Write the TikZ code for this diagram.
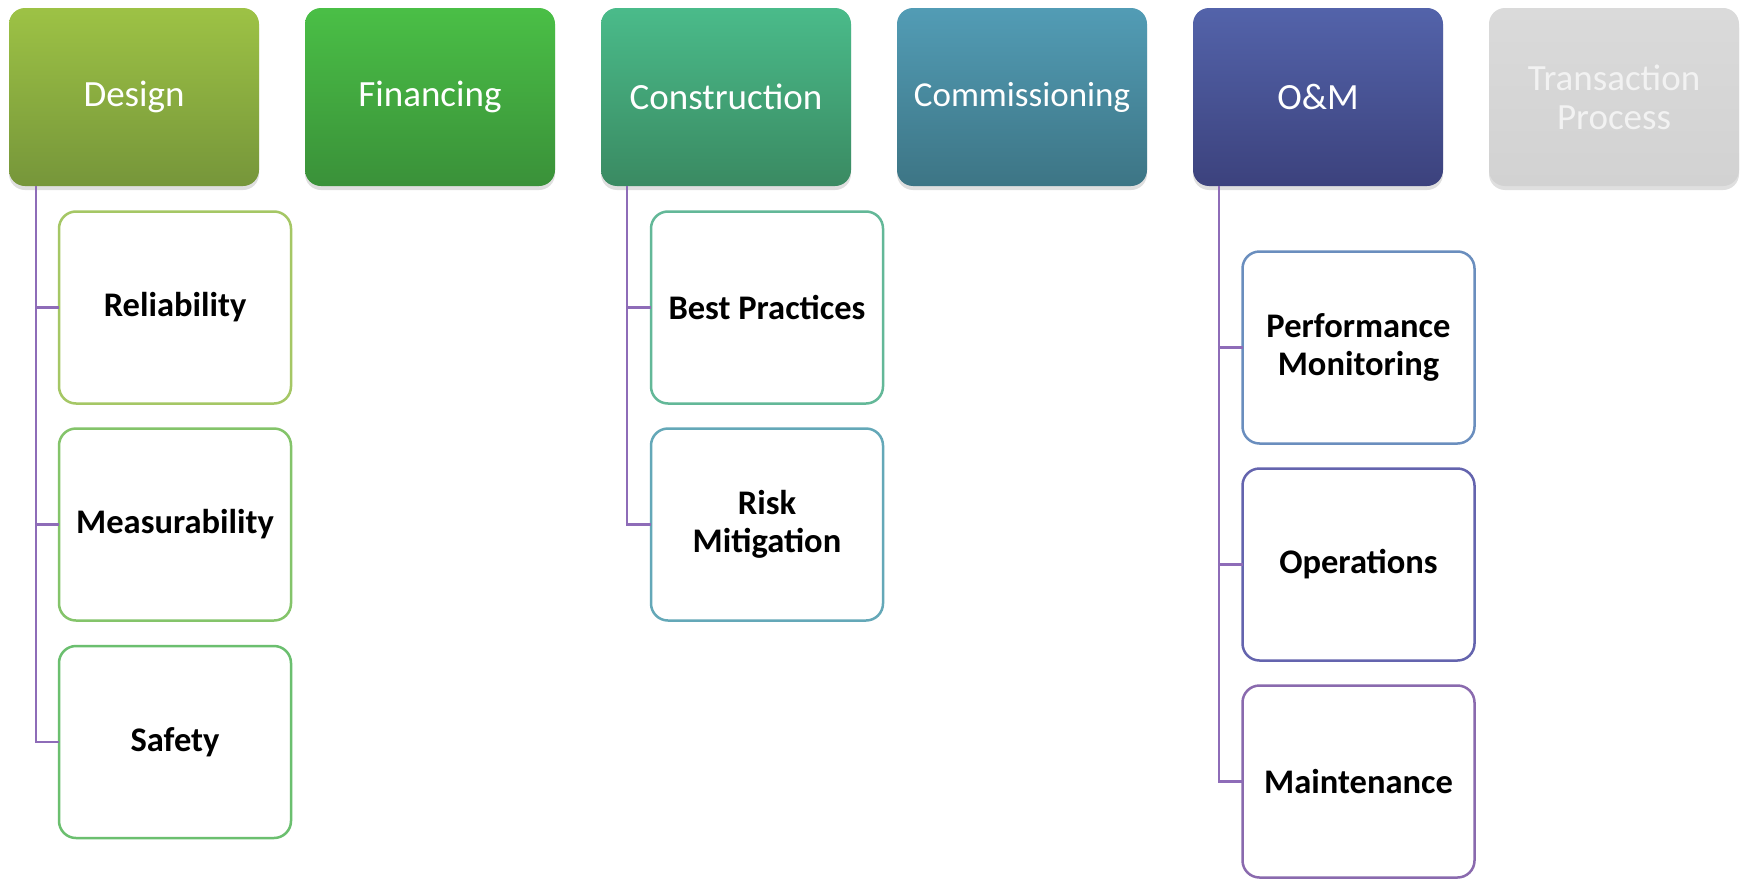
\documentclass[tikz,border=0pt]{standalone}
\usepackage{fontspec}
\setmainfont{Carlito}
\usetikzlibrary{shadows}
\definecolor{lineC}{HTML}{8E6CB8}
\definecolor{dT}{HTML}{9DC245}\definecolor{dB}{HTML}{76963A}
\definecolor{fT}{HTML}{4ABF46}\definecolor{fB}{HTML}{3A9139}
\definecolor{cT}{HTML}{4ABB8A}\definecolor{cB}{HTML}{3A8A62}
\definecolor{mT}{HTML}{529CB5}\definecolor{mB}{HTML}{3D7585}
\definecolor{oT}{HTML}{5363AA}\definecolor{oB}{HTML}{3C427D}
\definecolor{tT}{HTML}{DADADA}\definecolor{tB}{HTML}{D2D2D2}
\definecolor{relC}{HTML}{A5C765}
\definecolor{meaC}{HTML}{84C46A}
\definecolor{safC}{HTML}{6BBF6F}
\definecolor{bpC}{HTML}{63B898}
\definecolor{rmC}{HTML}{64A8B8}
\definecolor{pmC}{HTML}{6A8EBE}
\definecolor{opC}{HTML}{6464AE}
\definecolor{maC}{HTML}{8A6AAE}
\begin{document}
\begin{tikzpicture}[x=1pt,y=-1pt,
  topbox/.style={rectangle, rounded corners=16pt, minimum width=250pt, minimum height=178pt,
    inner sep=0pt, outer sep=0pt, text=white, font=\fontsize{37}{39}\selectfont, align=center,
    drop shadow={shadow xshift=0pt, shadow yshift=-4pt, opacity=0.25}},
  subbox/.style={rectangle, rounded corners=17pt, draw=#1, line width=2.5pt, fill=white,
    minimum width=232pt, minimum height=192pt, inner sep=0pt, outer sep=0pt, text=black,
    font=\bfseries\fontsize{34.5}{38}\selectfont, align=center},
  conn/.style={draw=lineC, line width=2.3pt}
]
\useasboundingbox (0,0) rectangle (1744,878);
\fill[white] (0,0) rectangle (1744,878);

% top row
\node[topbox, top color=dT, bottom color=dB] (design) at (134,97) {Design};
\node[topbox, top color=fT, bottom color=fB] (fin) at (430,97) {Financing};
\node[topbox, top color=cT, bottom color=cB] (cons) at (726,97) {Construction};
\node[topbox, top color=mT, bottom color=mB, font=\fontsize{35}{39}\selectfont] (comm) at (1022,97) {Commissioning};
\node[topbox, top color=oT, bottom color=oB] (om) at (1318,97) {O\&M};
\node[topbox, top color=tT, bottom color=tB, text=white!95!black] (trans) at (1614,97) {Transaction\\Process};

% children
\node[subbox=relC] (rel) at (175,307.5) {Reliability};
\node[subbox=meaC] (mea) at (175,524.5) {Measurability};
\node[subbox=safC] (saf) at (175,742) {Safety};

\node[subbox=bpC] (bp) at (767,307.5) {Best Practices};
\node[subbox=rmC] (rm) at (767,524.5) {Risk\\Mitigation};

\node[subbox=pmC] (pm) at (1358.5,347.5) {Performance\\Monitoring};
\node[subbox=opC] (op) at (1358.5,564.5) {Operations};
\node[subbox=maC] (ma) at (1358.5,781.5) {Maintenance};

% connectors
\draw[conn] (design.south west) ++(27,0) |- (rel.west);
\draw[conn] (design.south west) ++(27,0) |- (mea.west);
\draw[conn] (design.south west) ++(27,0) |- (saf.west);
\draw[conn] (cons.south west) ++(26,0) |- (bp.west);
\draw[conn] (cons.south west) ++(26,0) |- (rm.west);
\draw[conn] (om.south west) ++(26,0) |- (pm.west);
\draw[conn] (om.south west) ++(26,0) |- (op.west);
\draw[conn] (om.south west) ++(26,0) |- (ma.west);
\end{tikzpicture}
\end{document}
